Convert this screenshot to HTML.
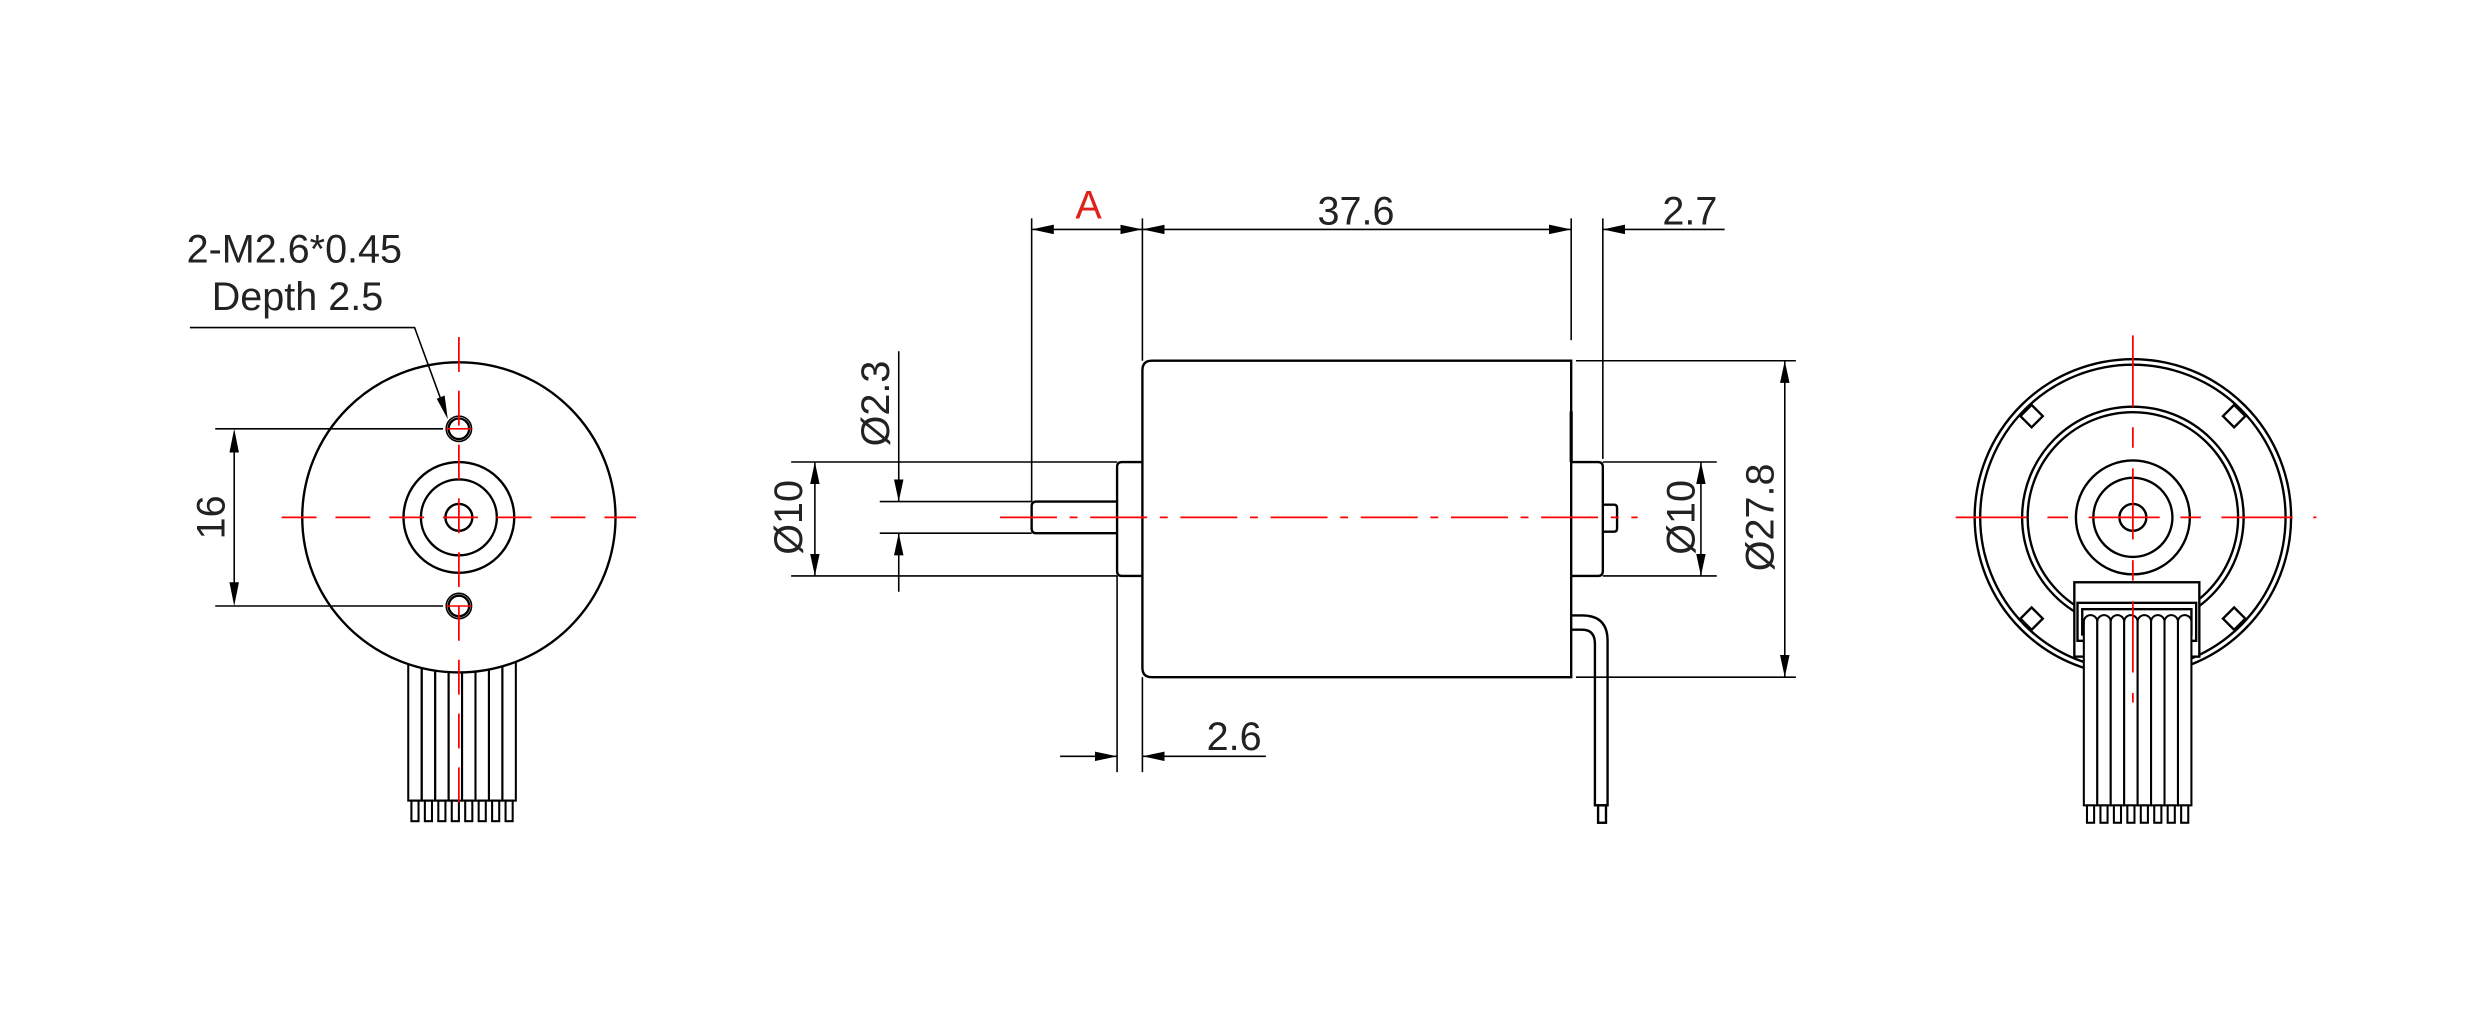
<!DOCTYPE html>
<html><head><meta charset="utf-8"><style>html,body{margin:0;padding:0;background:#fff}svg{display:block}</style></head>
<body>
<svg width="2481" height="1015" viewBox="0 0 1568 641.5" xmlns="http://www.w3.org/2000/svg" font-family="Liberation Sans, sans-serif">
<defs>
<marker id="a" viewBox="0 0 14 6" refX="14" refY="3" markerWidth="14" markerHeight="6" orient="auto-start-reverse" markerUnits="userSpaceOnUse"><path d="M0,0L14,3L0,6z" fill="#000"/></marker>
</defs>
<g fill="none" stroke="#000" stroke-width="1.5">
<!-- LEFT VIEW -->
<g stroke-width="1.3">
<rect x="258" y="415" width="8.5" height="91"/><rect x="266.5" y="415" width="8.5" height="91"/><rect x="275" y="415" width="8.5" height="91"/><rect x="283.5" y="415" width="8.5" height="91"/><rect x="292" y="415" width="8.5" height="91"/><rect x="300.5" y="415" width="8.5" height="91"/><rect x="309" y="415" width="8.5" height="91"/><rect x="317.5" y="415" width="8.5" height="91"/>
<rect x="260" y="506" width="4.5" height="13"/><rect x="268.5" y="506" width="4.5" height="13"/><rect x="277" y="506" width="4.5" height="13"/><rect x="285.5" y="506" width="4.5" height="13"/><rect x="294" y="506" width="4.5" height="13"/><rect x="302.5" y="506" width="4.5" height="13"/><rect x="311" y="506" width="4.5" height="13"/><rect x="319.5" y="506" width="4.5" height="13"/>
</g>
<ellipse cx="290" cy="327" rx="99" ry="98" fill="#fff"/>
<circle cx="290" cy="327" r="35"/><circle cx="290" cy="327" r="24"/><circle cx="290" cy="327" r="8.5"/>
<circle cx="290" cy="271" r="8" stroke-width="1"/><circle cx="290" cy="271" r="6.5"/>
<circle cx="290" cy="383" r="8" stroke-width="1"/><circle cx="290" cy="383" r="6.5"/>
<g stroke-width="1">
<line x1="136" y1="271" x2="280" y2="271"/><line x1="136" y1="383" x2="280" y2="383"/>
<line x1="148" y1="285" x2="148" y2="369"/>
<polyline points="120,207 262,207 281,259"/>
</g>
<path d="M148,271 L145,286 L151,286z M148,383 L145,368 L151,368z M283,265 L276,252 L281,250z" fill="#000" stroke="none"/>
<g stroke="#f00" stroke-width="1.1" stroke-dasharray="22,12">
<line x1="178" y1="327" x2="402" y2="327"/>
<line x1="290" y1="213" x2="290" y2="510"/>
</g>
<line x1="282" y1="271" x2="298" y2="271" stroke="#f00" stroke-width="1"/><line x1="282" y1="383" x2="298" y2="383" stroke="#f00" stroke-width="1"/>
<line x1="282" y1="327" x2="298" y2="327" stroke="#f00" stroke-width="1"/>

<!-- MIDDLE VIEW -->
<path d="M993,389 L1000,389 Q1016,389 1016,405 L1016,509 L1008,509 L1008,407 Q1008,398 1000,398 L993,398"/>
<rect x="1010" y="509" width="5" height="11"/>
<path d="M728,228 L993,228 L993,428 L728,428 Q722,428 722,422 L722,234 Q722,228 728,228z"/>
<path d="M722,292 L709,292 Q706,292 706,295 L706,361 Q706,364 709,364 L722,364"/>
<path d="M706,317 L655,317 Q652,317 652,320 L652,334 Q652,337 655,337 L706,337"/>
<path d="M993,292 L1010,292 Q1013,292 1013,295 L1013,361 Q1013,364 1010,364 L993,364"/>
<path d="M1013,319 L1020,319 Q1022,319 1022,321 L1022,334 Q1022,336 1020,336 L1013,336"/>
<line x1="993" y1="260" x2="993" y2="292" stroke-width="2"/>
<g stroke-width="1">
<line x1="652" y1="138" x2="652" y2="317"/>
<line x1="722" y1="138" x2="722" y2="228"/>
<line x1="993" y1="138" x2="993" y2="215"/>
<line x1="1013" y1="138" x2="1013" y2="290"/>
<line x1="706" y1="364" x2="706" y2="488"/>
<line x1="722" y1="428" x2="722" y2="488"/>
<line x1="500" y1="292" x2="706" y2="292"/><line x1="500" y1="364" x2="706" y2="364"/>
<line x1="556" y1="317" x2="652" y2="317"/><line x1="556" y1="337" x2="652" y2="337"/>
<line x1="1013" y1="292" x2="1085" y2="292"/><line x1="1013" y1="364" x2="1085" y2="364"/>
<line x1="996" y1="228" x2="1135" y2="228"/><line x1="996" y1="428" x2="1135" y2="428"/>
<line x1="652" y1="145" x2="722" y2="145" marker-start="url(#a)" marker-end="url(#a)"/>
<line x1="722" y1="145" x2="993" y2="145" marker-start="url(#a)" marker-end="url(#a)"/>
<line x1="1090" y1="145" x2="1013" y2="145" marker-end="url(#a)"/>
<line x1="670" y1="478" x2="706" y2="478" marker-end="url(#a)"/>
<line x1="800" y1="478" x2="722" y2="478" marker-end="url(#a)"/>
<line x1="568" y1="222" x2="568" y2="317" marker-end="url(#a)"/>
<line x1="568" y1="374" x2="568" y2="337" marker-end="url(#a)"/>
<line x1="515" y1="292" x2="515" y2="364" marker-start="url(#a)" marker-end="url(#a)"/>
<line x1="1075" y1="292" x2="1075" y2="364" marker-start="url(#a)" marker-end="url(#a)"/>
<line x1="1128" y1="228" x2="1128" y2="428" marker-start="url(#a)" marker-end="url(#a)"/>
</g>
<line x1="632" y1="327" x2="1035" y2="327" stroke="#f00" stroke-width="1.1" stroke-dasharray="36,8,5,8"/>

<!-- RIGHT VIEW -->
<circle cx="1348" cy="327" r="100"/><circle cx="1348" cy="327" r="96.5"/>
<circle cx="1348" cy="327" r="70"/><circle cx="1348" cy="327" r="66.5"/>
<circle cx="1348" cy="327" r="36"/><circle cx="1348" cy="327" r="25"/><circle cx="1348" cy="327" r="8.5"/>
<g fill="#fff">
<rect x="-5" y="-5" width="10" height="10" transform="translate(1284,263) rotate(45)"/>
<rect x="-5" y="-5" width="10" height="10" transform="translate(1412,263) rotate(45)"/>
<rect x="-5" y="-5" width="10" height="10" transform="translate(1284,391) rotate(45)"/>
<rect x="-5" y="-5" width="10" height="10" transform="translate(1412,391) rotate(45)"/>
<rect x="1311" y="368" width="79" height="47"/>
</g>
<rect x="1313" y="381" width="75" height="24"/>
<rect x="1316" y="385" width="69" height="16"/>
<g fill="#fff" stroke-width="1.3">
<path d="M1317,509 L1317,393 a4.25,4.25 0 0 1 8.5,0 L1325.5,509z"/><path d="M1325.5,509 L1325.5,393 a4.25,4.25 0 0 1 8.5,0 L1334,509z"/><path d="M1334,509 L1334,393 a4.25,4.25 0 0 1 8.5,0 L1342.5,509z"/><path d="M1342.5,509 L1342.5,393 a4.25,4.25 0 0 1 8.5,0 L1351,509z"/><path d="M1351,509 L1351,393 a4.25,4.25 0 0 1 8.5,0 L1359.5,509z"/><path d="M1359.5,509 L1359.5,393 a4.25,4.25 0 0 1 8.5,0 L1368,509z"/><path d="M1368,509 L1368,393 a4.25,4.25 0 0 1 8.5,0 L1376.5,509z"/><path d="M1376.5,509 L1376.5,393 a4.25,4.25 0 0 1 8.5,0 L1385,509z"/>
<rect x="1319" y="509" width="4.5" height="11"/><rect x="1327.5" y="509" width="4.5" height="11"/><rect x="1336" y="509" width="4.5" height="11"/><rect x="1344.5" y="509" width="4.5" height="11"/><rect x="1353" y="509" width="4.5" height="11"/><rect x="1361.5" y="509" width="4.5" height="11"/><rect x="1370" y="509" width="4.5" height="11"/><rect x="1378.5" y="509" width="4.5" height="11"/>
</g>
<g stroke="#f00" stroke-width="1.1" stroke-dasharray="45,13,13,13">
<line x1="1236" y1="327" x2="1464" y2="327"/>
<line x1="1348" y1="212" x2="1348" y2="444"/>
</g>
</g>
<!-- TEXT -->
<g font-size="25" fill="#222" text-anchor="middle">
<text x="186" y="166">2-M2.6*0.45</text>
<text x="188" y="196">Depth 2.5</text>
<text transform="translate(142,327) rotate(-90)">16</text>
<text x="688" y="138" fill="#e0201a">A</text>
<text x="857" y="142">37.6</text>
<text x="1068" y="142">2.7</text>
<text x="780" y="474">2.6</text>
<text transform="translate(562,255) rotate(-90)">Ø2.3</text>
<text transform="translate(507,327) rotate(-90)">Ø10</text>
<text transform="translate(1071,327) rotate(-90)">Ø10</text>
<text transform="translate(1121,327) rotate(-90)">Ø27.8</text>
</g>
</svg>
</body></html>
